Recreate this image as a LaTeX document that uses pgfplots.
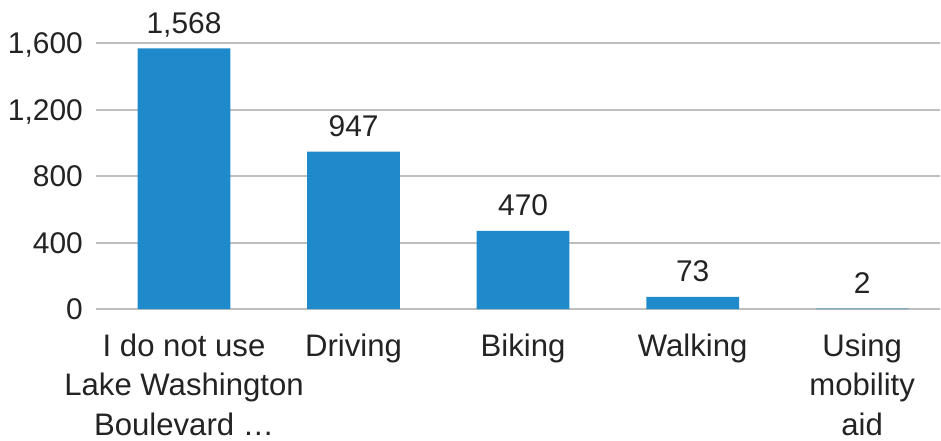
\documentclass[border={4pt 2.5pt 0pt 6.3pt}]{standalone}
\usepackage{fontspec}
\setmainfont{Liberation Sans}
\usepackage{pgfplots}
\pgfplotsset{compat=1.18}
\definecolor{barblue}{RGB}{30,138,204}
\definecolor{gridgray}{RGB}{190,190,190}
\definecolor{txt}{RGB}{35,35,35}
\begin{document}
\begin{tikzpicture}
\begin{axis}[
  scale only axis,
  width=423pt, height=133.3pt,
  xmin=-0.518, xmax=4.459,
  ymin=0, ymax=1600,
  axis line style={draw=none},
  ytick={0,400,800,1200,1600},
  ymajorgrids,
  grid style={gridgray, line width=1pt},
  major tick length=0pt,
  xtick=data,
  xticklabels={{I do not use\\Lake Washington\\Boulevard \dots},Driving,Biking,Walking,{Using\\mobility\\aid}},
  x tick label style={align=center, font=\fontsize{15.6}{19.75}\selectfont, text=txt, anchor=north, inner sep=0pt, yshift=-12.3pt},
  y tick label style={font=\fontsize{15}{18}\selectfont, text=txt, anchor=base east, inner sep=0pt, xshift=-6.5pt, yshift=-5.37pt},
  /pgf/number format/assume math mode=true,
  /pgf/number format/1000 sep={,},
  ybar, bar width=46.5pt,
  nodes near coords,
  nodes near coords style={font=\fontsize{15}{18}\selectfont, text=txt, anchor=base, inner sep=0pt, yshift=7.5pt},
  clip=false,
]
\addplot[fill=barblue, draw=none] coordinates {(0,1568) (1,947) (2,470) (3,73) (4,2)};
\end{axis}
\end{tikzpicture}
\end{document}
